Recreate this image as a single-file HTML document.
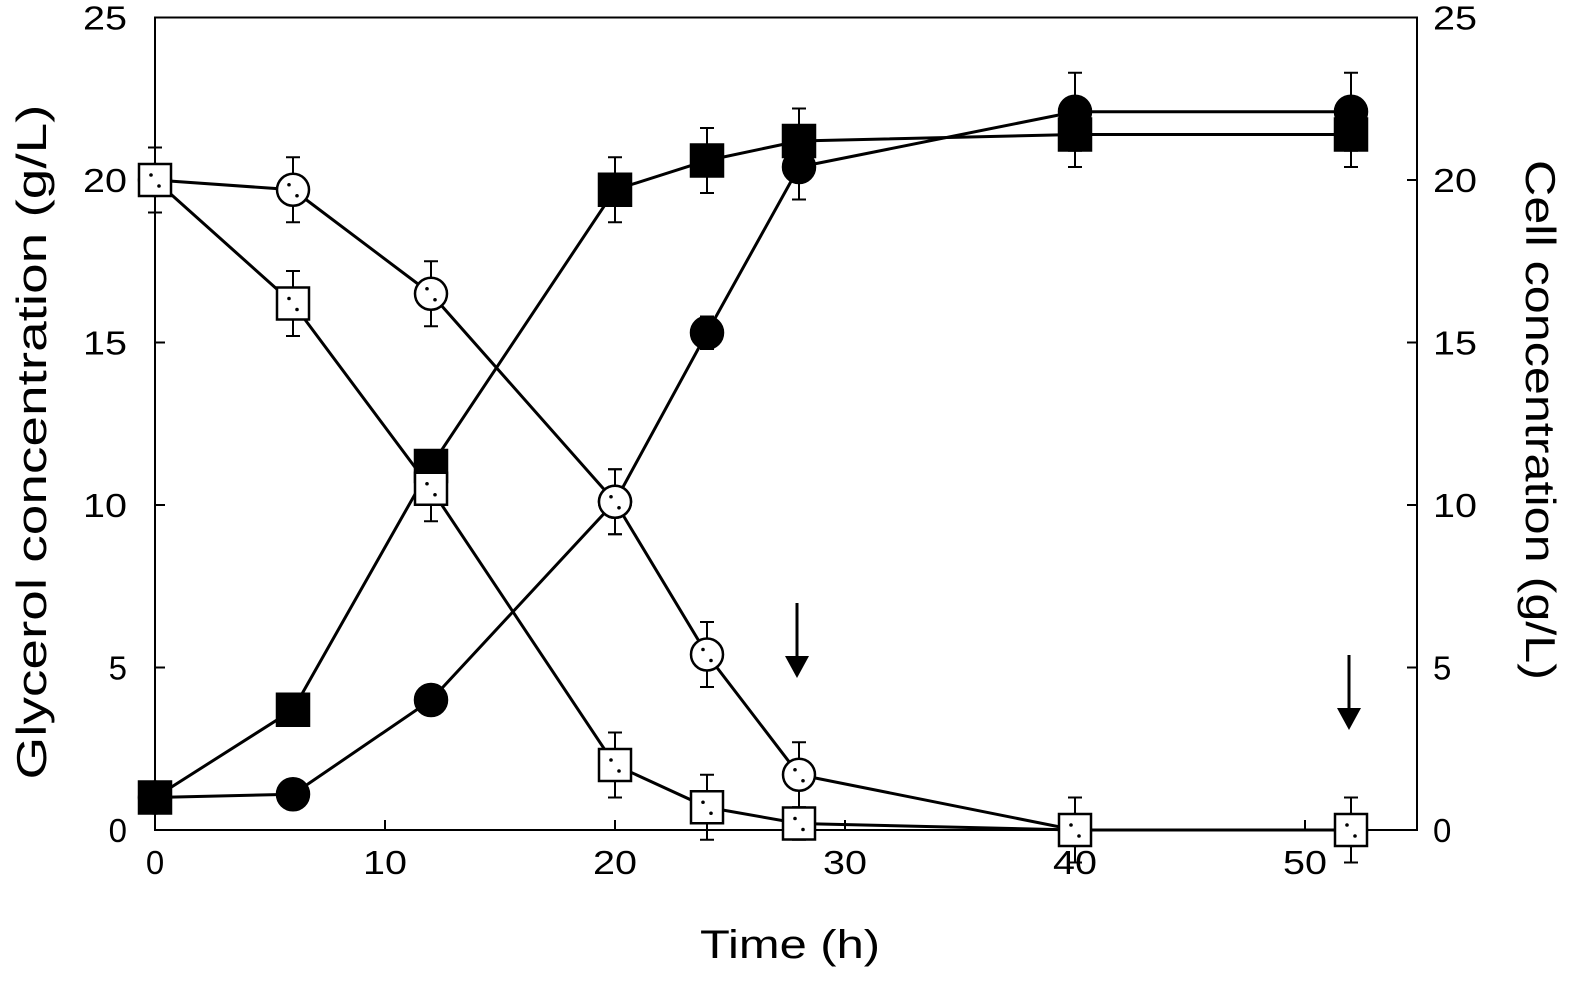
<!DOCTYPE html>
<html><head><meta charset="utf-8"><style>
body{margin:0;background:#fff;}
svg{display:block;font-family:"Liberation Sans",Arial,sans-serif;}
</style></head><body>
<svg id="chart" width="1594" height="989" viewBox="0 0 1594 989"></svg>
<script>
const times=[0,6,12,20,24,28,40,52];
const glycerolCircle=[20,19.7,16.5,10.1,5.4,1.7,0,0];
const glycerolSquare=[20,16.2,10.5,2.0,0.7,0.2,0,0];
const cellSquare=[1.0,3.7,11.2,19.7,20.6,21.2,21.4,21.4];
const cellCircle=[1.0,1.1,4.0,10.1,15.3,20.4,22.1,22.1];
const errGlyCircle=[1,1,1,1,1,1,1,1];
const errGlySquare=[1,1,1,1,1,0.5,1,1];
const errCellSquare=[0,0,0,1,1,1,1,1];
const errCellCircle=[0,0,0,1,0.5,1,1.2,1.2];
const xTicks=[0,10,20,30,40,50];
const yTicks=[0,5,10,15,20,25];
const arrowTimes=[28,52];

const L=155,R=1417,T=17.5,B=830;
const xs=t=>L+t*23;
const ys=v=>B-v*32.5;
const svg=document.getElementById('chart');
const NS='http://www.w3.org/2000/svg';
function mk(tag,attrs,parent){const e=document.createElementNS(NS,tag);for(const k in attrs)e.setAttribute(k,attrs[k]);(parent||svg).appendChild(e);return e;}
function lenAttr(v){return String(v).length===1?{}:{textLength:44,lengthAdjust:'spacingAndGlyphs'};}

const frame=mk('rect',{x:L,y:T,width:R-L,height:B-T,fill:'none',stroke:'#000','stroke-width':2});



xTicks.forEach(v=>{
  const x=xs(v);
  mk('line',{x1:x,y1:B,x2:x,y2:B-10,stroke:'#000','stroke-width':2});
  const t=mk('text',Object.assign({x:x,y:B+44,'font-size':33,'text-anchor':'middle'},lenAttr(v)));t.textContent=v;
  
  
});
yTicks.forEach(v=>{
  const y=ys(v);
  mk('line',{x1:L,y1:y,x2:L+10,y2:y,stroke:'#000','stroke-width':2});
  mk('line',{x1:R,y1:y,x2:R-10,y2:y,stroke:'#000','stroke-width':2});
  const t=mk('text',Object.assign({x:L-28,y:y+12,'font-size':33,'text-anchor':'end'},lenAttr(v)));t.textContent=v;
  
  
  const t2=mk('text',Object.assign({x:R+16,y:y+12,'font-size':33,'text-anchor':'start'},lenAttr(v)));t2.textContent=v;
  
  
});
const xt=mk('text',{x:790,y:958,'font-size':40,'text-anchor':'middle',textLength:180,lengthAdjust:'spacingAndGlyphs'});xt.textContent='Time (h)';


const yl=mk('text',{x:0,y:0,'font-size':42,'text-anchor':'middle',textLength:675,lengthAdjust:'spacingAndGlyphs',transform:'translate(46,442) rotate(-90)'});yl.textContent='Glycerol concentration (g/L)';


const yr=mk('text',{x:0,y:0,'font-size':42,'text-anchor':'middle',textLength:520,lengthAdjust:'spacingAndGlyphs',transform:'translate(1526,420) rotate(90)'});yr.textContent='Cell concentration (g/L)';



function series(vals,errs,shape,filled,name){
  const g=mk('g',{});
  
  
  mk('polyline',{points:times.map((t,i)=>xs(t)+','+ys(vals[i])).join(' '),fill:'none',stroke:'#000','stroke-width':3},g);
  times.forEach((t,i)=>{
    const x=xs(t),y=ys(vals[i]),e=errs[i]*32.5;
    if(e>0){
      mk('line',{x1:x,y1:y-e,x2:x,y2:y+e,stroke:'#000','stroke-width':2},g);
      mk('line',{x1:x-7,y1:y-e,x2:x+7,y2:y-e,stroke:'#000','stroke-width':2},g);
      mk('line',{x1:x-7,y1:y+e,x2:x+7,y2:y+e,stroke:'#000','stroke-width':2},g);
    }
    let m;
    if(shape==='c') m=mk('circle',{cx:x,cy:y,r:16,fill:filled?'#000':'#fff',stroke:'#000','stroke-width':2.5},g);
    else m=mk('rect',{x:x-16,y:y-16,width:32,height:32,fill:filled?'#000':'#fff',stroke:'#000','stroke-width':2.5},g);
    
    
    if(!filled){mk('circle',{cx:x-4,cy:y-5,r:1.8,fill:'#000'},g);mk('circle',{cx:x+4,cy:y+6,r:1.8,fill:'#000'},g);}
  });
}
series(cellSquare,errCellSquare,'s',true,'cell-square-series');
series(cellCircle,errCellCircle,'c',true,'cell-circle-series');
series(glycerolCircle,errGlyCircle,'c',false,'glycerol-circle-series');
series(glycerolSquare,errGlySquare,'s',false,'glycerol-square-series');

const arrowTops=[603,655];
arrowTimes.forEach((t,i)=>{
  const x=xs(t)-2,y0=arrowTops[i],y1=y0+75;
  const g=mk('g',{});
  
  
  mk('line',{x1:x,y1:y0,x2:x,y2:y1-15,stroke:'#000','stroke-width':3},g);
  mk('polygon',{points:`${x-12},${y1-22} ${x+12},${y1-22} ${x},${y1}`,fill:'#000'},g);
});
</script>
</body></html>
